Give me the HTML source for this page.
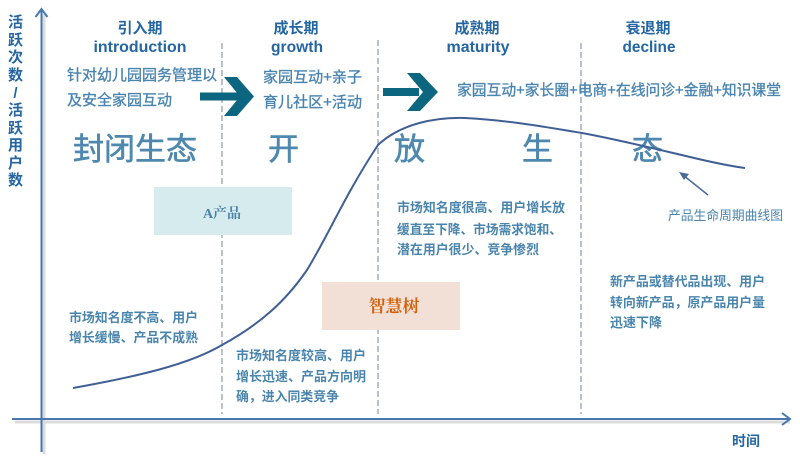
<!DOCTYPE html>
<html><head><meta charset="utf-8">
<style>
html,body{margin:0;padding:0;background:#fff;}
svg{display:block;}
text{font-family:"Liberation Sans","Noto Sans CJK SC","WenQuanYi Zen Hei",sans-serif;}
.hd{fill:#2566a2;font-weight:bold;font-size:15px;}
.en{fill:#2566a2;font-weight:bold;font-size:16px;}
.t15{fill:#4a85b0;font-size:15px;stroke:#4a85b0;stroke-width:0.35;}
.t13{fill:#4a85ad;font-size:13px;font-weight:bold;}
.big{fill:#4f88ae;font-size:31px;stroke:#4f88ae;stroke-width:0.6;}
</style></head>
<body>
<svg width="800" height="456" viewBox="0 0 800 456" xmlns="http://www.w3.org/2000/svg">
<rect width="800" height="456" fill="#fff"/>
<!-- axes shadows -->
<line x1="44" y1="14" x2="44" y2="454" stroke="#dcdcdc" stroke-width="3"/>
<line x1="15" y1="422" x2="790" y2="422" stroke="#dcdcdc" stroke-width="3"/>
<!-- axes -->
<line x1="41.5" y1="9" x2="41.5" y2="452" stroke="#4a78ae" stroke-width="2"/>
<polyline points="35.5,17 41.5,9 47.5,17" fill="none" stroke="#4a78ae" stroke-width="2"/>
<line x1="12" y1="419" x2="789" y2="419" stroke="#4a78ae" stroke-width="2"/>
<polyline points="782,413 790,419 782,425" fill="none" stroke="#4a78ae" stroke-width="2"/>
<!-- dashed lines -->
<g stroke="#a0adbb" stroke-width="1.5" stroke-dasharray="6,3">
<line x1="222" y1="43" x2="222" y2="414"/>
<line x1="378" y1="40" x2="378" y2="414"/>
<line x1="581" y1="43" x2="581" y2="414"/>
</g>
<!-- y label -->
<g class="hd" text-anchor="middle" style="font-size:15px">
<text x="15.5" y="27">活</text>
<text x="15.5" y="45">跃</text>
<text x="15.5" y="62">次</text>
<text x="15.5" y="80">数</text>
<text x="15.5" y="98">/</text>
<text x="15.5" y="115">活</text>
<text x="15.5" y="133">跃</text>
<text x="15.5" y="150">用</text>
<text x="15.5" y="168">户</text>
<text x="15.5" y="185">数</text>
</g>
<!-- headers -->
<g text-anchor="middle">
<text class="hd" x="140" y="33">引入期</text>
<text class="en" x="140" y="52" textLength="93" lengthAdjust="spacingAndGlyphs">introduction</text>
<text class="hd" x="296" y="33">成长期</text>
<text class="en" x="297" y="52" textLength="52" lengthAdjust="spacingAndGlyphs">growth</text>
<text class="hd" x="477" y="33">成熟期</text>
<text class="en" x="478" y="52" textLength="63" lengthAdjust="spacingAndGlyphs">maturity</text>
<text class="hd" x="648" y="33">衰退期</text>
<text class="en" x="649" y="52" textLength="53" lengthAdjust="spacingAndGlyphs">decline</text>
</g>
<!-- upper descriptions -->
<text class="t15" x="67" y="80" textLength="150" lengthAdjust="spacingAndGlyphs">针对幼儿园园务管理以</text>
<text class="t15" x="67" y="105" textLength="105" lengthAdjust="spacingAndGlyphs">及安全家园互动</text>
<text class="t15" x="263" y="82" textLength="99" lengthAdjust="spacingAndGlyphs">家园互动+亲子</text>
<text class="t15" x="263" y="107" textLength="99" lengthAdjust="spacingAndGlyphs">育儿社区+活动</text>
<text class="t15" x="457" y="95" textLength="324" lengthAdjust="spacingAndGlyphs">家园互动+家长圈+电商+在线问诊+金融+知识课堂</text>
<!-- big arrows -->
<g fill="#0d6680">
<rect x="200" y="92.5" width="40" height="8"/>
<polygon points="224,77 237,77 254,96.5 237,116 224,116 240,96.5"/>
<rect x="383" y="88" width="36" height="8"/>
<polygon points="407,73 420,73 438,92 420,111 407,111 423,92"/>
</g>
<!-- big text -->
<text class="big" x="73" y="160" textLength="124" lengthAdjust="spacingAndGlyphs">封闭生态</text>
<text class="big" x="268" y="160">开</text>
<text class="big" x="394" y="160">放</text>
<text class="big" x="522" y="160">生</text>
<text class="big" x="632" y="160">态</text>
<!-- boxes -->
<rect x="154" y="187" width="138" height="48" fill="#d5ebee"/>
<text x="222" y="218" text-anchor="middle" style="font-family:'Liberation Serif','Noto Serif CJK SC',serif;font-size:14px;font-weight:bold;fill:#4a7fa8">A产品</text>
<rect x="322" y="282" width="138" height="48" fill="#f2e0d7"/>
<text x="394" y="312" text-anchor="middle" style="font-family:'Liberation Serif','Noto Serif CJK SC',serif;font-size:17px;font-weight:bold;fill:#d0620e">智慧树</text>
<!-- curve -->
<path d="M73,388 C140,376 190,364 222,345 C260,324 285,302 307,270 C330,232 345,195 378,145 C400,124 435,117 465,118 C505,120 540,126 582,133 C620,140 660,150 690,157 C715,163 730,166 745,168" fill="none" stroke="#3f5f95" stroke-width="2"/>
<!-- annotation arrow -->
<line x1="708" y1="195" x2="683" y2="175" stroke="#4a6a9a" stroke-width="1.5"/>
<polygon points="679,172 689,174 684,180" fill="#4a6a9a"/>
<text x="668" y="220" style="fill:#4a85b0;font-size:13px" textLength="115" lengthAdjust="spacingAndGlyphs">产品生命周期曲线图</text>
<!-- lower descriptions -->
<text class="t13" x="69" y="322" textLength="129" lengthAdjust="spacingAndGlyphs">市场知名度不高、用户</text>
<text class="t13" x="69" y="342" textLength="129" lengthAdjust="spacingAndGlyphs">增长缓慢、产品不成熟</text>
<text class="t13" x="236" y="360" textLength="130" lengthAdjust="spacingAndGlyphs">市场知名度较高、用户</text>
<text class="t13" x="236" y="381" textLength="130" lengthAdjust="spacingAndGlyphs">增长迅速、产品方向明</text>
<text class="t13" x="236" y="401" textLength="103" lengthAdjust="spacingAndGlyphs">确，进入同类竞争</text>
<text class="t13" x="397" y="212" textLength="168" lengthAdjust="spacingAndGlyphs">市场知名度很高、用户增长放</text>
<text class="t13" x="397" y="234" textLength="165" lengthAdjust="spacingAndGlyphs">缓直至下降、市场需求饱和、</text>
<text class="t13" x="397" y="254" textLength="142" lengthAdjust="spacingAndGlyphs">潜在用户很少、竞争惨烈</text>
<text class="t13" x="610" y="286" textLength="155" lengthAdjust="spacingAndGlyphs">新产品或替代品出现、用户</text>
<text class="t13" x="610" y="307" textLength="155" lengthAdjust="spacingAndGlyphs">转向新产品，原产品用户量</text>
<text class="t13" x="610" y="327" textLength="52" lengthAdjust="spacingAndGlyphs">迅速下降</text>
<text x="732" y="446" style="fill:#2566a2;font-size:14px;font-weight:bold" textLength="28" lengthAdjust="spacingAndGlyphs">时间</text>
</svg>
</body></html>
